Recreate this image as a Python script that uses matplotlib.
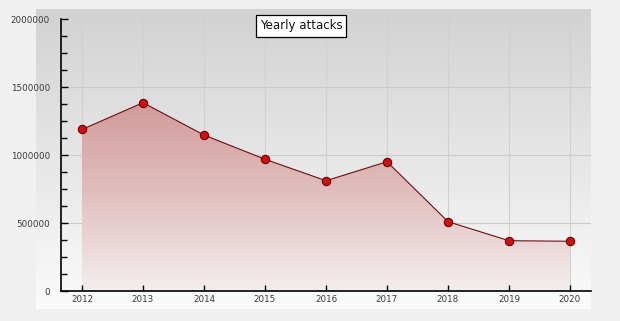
import numpy as np
import matplotlib
matplotlib.use("Agg")
import matplotlib.pyplot as plt
from matplotlib.colors import LinearSegmentedColormap

years = [2012, 2013, 2014, 2015, 2016, 2017, 2018, 2019, 2020]
attacks = [1190000, 1387000, 1149000, 971000, 813000, 953000, 512000, 372000, 368000]
yticks = [0, 500000, 1000000, 1500000, 2000000]
title = "Yearly attacks"

W, H = 620, 321
fig = plt.figure(figsize=(W / 100, H / 100), dpi=100)
fig.patch.set_facecolor("#f0f0f0")

def fx(px):
    return px / W

def fy(py):
    return 1 - py / H

# background gradient panel
bg = fig.add_axes([fx(36), fy(309), fx(591) - fx(36), fy(9) - fy(309)])
bg.set_axis_off()
grad = np.linspace(0, 1, 256).reshape(-1, 1)
bg_cmap = LinearSegmentedColormap.from_list("bg", ["#d2d2d2", "#e6e6e6", "#fbfbfb"])
bg.imshow(grad, aspect="auto", cmap=bg_cmap, extent=[0, 1, 0, 1], origin="upper")
bg.set_xlim(0, 1)
bg.set_ylim(0, 1)

ax_bottom, ax_top = 291.3, 19.3
ymax = 2000000
top_px = 9
ytop = ymax + (ax_top - top_px) / (ax_bottom - ax_top) * ymax
ax = fig.add_axes([fx(61), fy(ax_bottom), fx(591) - fx(61), fy(top_px) - fy(ax_bottom)])
ax.set_facecolor("none")
step = (570.3 - 82) / 8
xpad = (82 - 61) / step
ax.set_xlim(years[0] - xpad, years[-1] + xpad)
ax.set_ylim(0, ytop)

# grid
for y in yticks[1:-1]:
    ax.axhline(y, color="#cacaca", lw=0.8, zorder=0)
for x in years:
    ax.axvline(x, color="#d0d0d0", lw=0.8, zorder=0)

# gradient fill under line
poly = ax.fill_between(years, attacks, 0, color="none", lw=0, zorder=1)
fill_cmap = LinearSegmentedColormap.from_list("fill", ["#d29a9a", "#e2c0c0", "#f4eeee"])
im = ax.imshow(grad, aspect="auto", cmap=fill_cmap,
               extent=[years[0], years[-1], 0, max(attacks)], origin="upper", zorder=1)
im.set_clip_path(poly.get_paths()[0], transform=ax.transData)
ax.set_xlim(years[0] - xpad, years[-1] + xpad)
ax.set_ylim(0, ytop)

ax.plot(years, attacks, color="#6a1010", lw=0.8, zorder=3,
        marker="o", markersize=6, markerfacecolor="#cc1111",
        markeredgecolor="#6e0000", markeredgewidth=0.8)

for s in ["top", "right"]:
    ax.spines[s].set_visible(False)
ax.spines["left"].set_bounds(0, ymax)
ax.spines["left"].set_linewidth(1.2)
ax.spines["bottom"].set_linewidth(1.2)

ax.set_xticks(years)
ax.set_xticklabels([str(y) for y in years])
ax.set_yticks(yticks)
ax.set_yticklabels([str(y) for y in yticks])
ax.set_yticks(np.arange(0, ymax + 1, 125000), minor=True)
ax.tick_params(axis="y", which="major", direction="in", length=5, width=1, pad=8,
               labelsize=6.3, labelcolor="#3a3a3a")
ax.tick_params(axis="y", which="minor", direction="in", length=4, width=1)
ax.tick_params(axis="x", which="major", direction="in", length=4, width=1, pad=3,
               labelsize=6.3, labelcolor="#3a3a3a")

fig.text(fx(301), fy(26), title, ha="center", va="center", fontsize=8.5, color="#111111",
         bbox=dict(boxstyle="square,pad=0.35", fc="white", ec="black", lw=0.9))

fig.savefig("out.png", dpi=100, facecolor=fig.get_facecolor())
